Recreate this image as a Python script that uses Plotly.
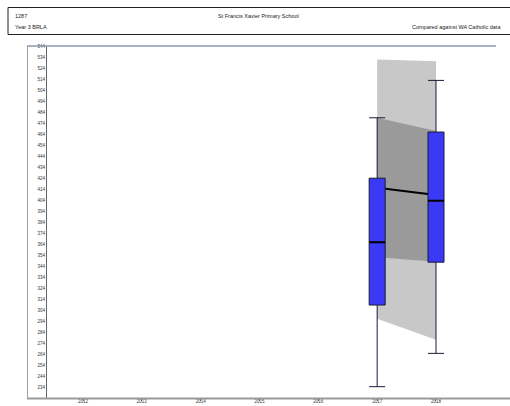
import plotly.graph_objects as go

# ---- data ----
all_years = [2012, 2013, 2014, 2015, 2016, 2017, 2018]
years = [2017, 2018]
school_min = [234.3, 264.6]
school_q1 = [308.6, 347.6]
school_median = [365.7, 403.5]
school_q3 = [424.0, 466.0]
school_max = [479.0, 513.0]

wa_outer_low = [296.0, 277.0]
wa_outer_high = [532.0, 530.5]
wa_inner_low = [352.0, 348.0]
wa_inner_high = [479.0, 467.0]
wa_median = [415.3, 408.7]

y_ticks = list(range(234, 545, 10))

header_left_top = "1287"
header_left_bottom = "Year 3 BRLA"
header_center = "St Francis Xavier Primary School"
header_right = "Compared against WA Catholic data"

# ---- figure ----
FONT = "Liberation Sans, Arial, sans-serif"
BOX_W = 0.272
W, H = 510, 406
L, R, T, B = 47, 14, 46, 8
PW, PH = W - L - R, H - T - B
Y_RANGE = [224.0, 544.3]
X_RANGE = [2011.388, 2019.02]

def px(x):
    return (x - L) / PW

def py(y):
    return 1 - (y - T) / PH

fig = go.Figure()

# outer WA band (light)
fig.add_trace(go.Scatter(
    x=[years[0], years[1], years[1], years[0]],
    y=[wa_outer_high[0], wa_outer_high[1], wa_outer_low[1], wa_outer_low[0]],
    fill="toself", fillcolor="#C8C8C8", line=dict(width=0), mode="lines",
    hoverinfo="skip"))
# inner WA band (dark)
fig.add_trace(go.Scatter(
    x=[years[0], years[1], years[1], years[0]],
    y=[wa_inner_high[0], wa_inner_high[1], wa_inner_low[1], wa_inner_low[0]],
    fill="toself", fillcolor="#9A9A9A", line=dict(width=0), mode="lines",
    hoverinfo="skip"))
# WA median line
fig.add_trace(go.Scatter(
    x=years, y=wa_median, mode="lines",
    line=dict(color="black", width=2)))

# school boxes (on overlaying axis so they sit above the bands)
fig.add_trace(go.Box(
    x=years, q1=school_q1, median=school_median, q3=school_q3,
    lowerfence=school_min, upperfence=school_max,
    width=BOX_W, whiskerwidth=1, boxpoints=False,
    fillcolor="#3A3AF6", line=dict(color="#1A1A3A", width=1),
    yaxis="y2"))

# thick medians on boxes
mx, my = [], []
for yr, m in zip(years, school_median):
    mx += [yr - BOX_W / 2, yr + BOX_W / 2, None]
    my += [m, m, None]
fig.add_trace(go.Scatter(x=mx, y=my, mode="lines",
                         line=dict(color="black", width=2), yaxis="y2"))

shapes = [
    dict(type="rect", xref="paper", yref="paper",
         x0=px(8), x1=px(515), y0=py(34.5), y1=py(7.5),
         line=dict(color="#222", width=1)),
    dict(type="line", xref="paper", yref="paper",
         x0=px(27.5), x1=px(27.5), y0=py(46), y1=py(398.5),
         line=dict(color="#A0A0A0", width=1)),
    dict(type="line", xref="paper", yref="paper",
         x0=px(27), x1=px(496), y0=py(46), y1=py(46),
         line=dict(color="#8A98AE", width=1.5)),
    dict(type="line", xref="paper", yref="paper",
         x0=px(27), x1=px(512), y0=py(398.5), y1=py(398.5),
         line=dict(color="#9A9A9A", width=2)),
]

annotations = [
    dict(text=header_left_top, x=px(13), y=py(16), xref="paper", yref="paper",
         xanchor="left", yanchor="middle", showarrow=False,
         font=dict(size=5.5, color="#222", family=FONT)),
    dict(text=header_left_bottom, x=px(13), y=py(27), xref="paper", yref="paper",
         xanchor="left", yanchor="middle", showarrow=False,
         font=dict(size=5.5, color="#222", family=FONT)),
    dict(text=header_center, x=px(258), y=py(16), xref="paper", yref="paper",
         xanchor="center", yanchor="middle", showarrow=False,
         font=dict(size=5.5, color="#222", family=FONT)),
    dict(text=header_right, x=px(503), y=py(27), xref="paper", yref="paper",
         xanchor="right", yanchor="middle", showarrow=False,
         font=dict(size=5.5, color="#222", family=FONT)),
]

fig.update_layout(
    width=W, height=H, autosize=False,
    margin=dict(l=L, r=R, t=T, b=B, pad=0, autoexpand=False),
    plot_bgcolor="white", paper_bgcolor="white",
    showlegend=False, shapes=shapes, annotations=annotations,
    font=dict(family=FONT), boxmode="overlay",
    xaxis=dict(range=X_RANGE, tickvals=all_years,
               ticktext=[str(y) for y in all_years],
               ticks="outside", ticklen=2, tickcolor="#777", tickwidth=1,
               ticklabelstandoff=-3,
               showgrid=False, zeroline=False, showline=False,
               automargin=False,
               tickfont=dict(size=4.5, color="#333", family=FONT)),
    yaxis=dict(range=Y_RANGE, tickvals=y_ticks,
               ticktext=[str(v) for v in y_ticks],
               ticks="", showgrid=False, zeroline=False,
               showline=True, linecolor="#666", linewidth=1,
               automargin=False,
               tickfont=dict(size=4.5, color="#333", family=FONT)),
    yaxis2=dict(range=Y_RANGE, overlaying="y", showticklabels=False,
                showgrid=False, zeroline=False, showline=False, ticks="",
                automargin=False),
)

fig.write_html("out.html")
